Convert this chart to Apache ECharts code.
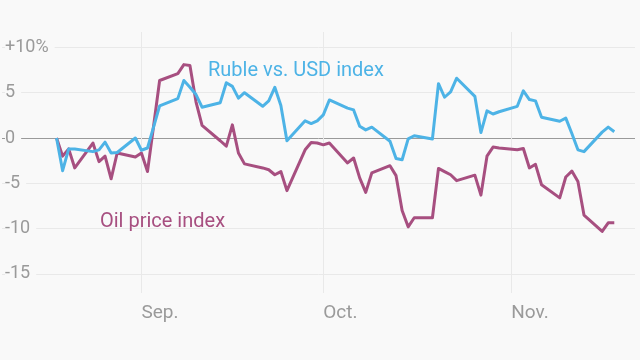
<!DOCTYPE html>
<html>
<head>
<meta charset="utf-8">
<style>
  html, body { margin: 0; padding: 0; background: #f9f9f9; }
  #chart { width: 640px; height: 360px; }
</style>
<script src="https://cdn.jsdelivr.net/npm/echarts@6/dist/echarts.min.js"></script>
</head>
<body>
<div id="chart"></div>
<script>
const dates = ['2015-08-18','2015-08-19','2015-08-20','2015-08-21','2015-08-24','2015-08-25','2015-08-26','2015-08-27','2015-08-28','2015-08-31',
'2015-09-01','2015-09-02','2015-09-03','2015-09-04','2015-09-07','2015-09-08','2015-09-09','2015-09-10','2015-09-11','2015-09-14','2015-09-15','2015-09-16','2015-09-17','2015-09-18','2015-09-21','2015-09-22','2015-09-23','2015-09-24','2015-09-25','2015-09-28','2015-09-29','2015-09-30',
'2015-10-01','2015-10-02','2015-10-05','2015-10-06','2015-10-07','2015-10-08','2015-10-09','2015-10-12','2015-10-13','2015-10-14','2015-10-15','2015-10-16','2015-10-19','2015-10-20','2015-10-21','2015-10-22','2015-10-23','2015-10-26','2015-10-27','2015-10-28','2015-10-29','2015-10-30',
'2015-11-02','2015-11-03','2015-11-04','2015-11-05','2015-11-06','2015-11-09','2015-11-10','2015-11-11','2015-11-12','2015-11-13','2015-11-16','2015-11-17','2015-11-18'];

const ruble = [0,-3.6,-1.2,-1.2,-1.5,-1.3,-0.45,-1.65,-1.6,0,
-1.35,-1.1,1.2,3.55,4.35,6.35,5.6,4.8,3.4,3.9,6.1,5.7,4.4,5.0,3.5,4.1,5.6,3.6,-0.3,1.9,1.6,1.9,
2.55,4.2,3.3,3.1,1.3,0.9,1.2,-0.35,-2.25,-2.4,-0.1,0.25,-0.1,6.0,4.5,5.1,6.6,4.6,0.6,3.0,2.65,2.9,
3.5,5.2,4.25,4.1,2.3,1.85,2.2,0.5,-1.3,-1.5,0.65,1.2,0.7];

const oil = [0,-2.0,-1.2,-3.3,-0.55,-2.6,-2.0,-4.5,-1.65,-2.1,
-1.65,-3.7,1.3,6.35,7.1,8.1,8.0,4.0,1.4,-0.3,-0.9,1.45,-1.65,-2.85,-3.3,-3.5,-4.05,-3.7,-5.8,-1.3,-0.5,-0.55,
-0.75,-0.55,-2.75,-2.2,-4.4,-6.0,-3.85,-3.05,-4.15,-8.0,-9.8,-8.8,-8.8,-3.35,-3.7,-4.05,-4.7,-4.1,-6.3,-2.0,-1.0,-1.1,
-1.3,-1.15,-3.3,-2.9,-5.15,-6.6,-4.3,-3.65,-4.8,-8.5,-10.3,-9.35,-9.35];

const monthTicks = ['2015-09-01','2015-10-01','2015-11-01'];
const monthLabels = ['Sep.','Oct.','Nov.'];
const yTicks = [-15,-10,-5,0,5,10];
const yTickLabels = ['-15','-10','-5','0','5','+10%'];

const seriesNames = ['Oil price index','Ruble vs. USD index'];

const BLUE = '#4db3e6';
const PURPLE = '#a74f80';
const BG = '#f9f9f9';
const GRID = '#e9e9e9';
const FONT = 'Roboto, "Noto Sans", sans-serif';

const ts = d => echarts.time.parse(d).getTime();
const monthStamps = monthTicks.map(ts);

const chart = echarts.init(document.getElementById('chart'), null, {renderer: 'canvas'});

chart.setOption({
  backgroundColor: BG,
  animation: false,
  grid: { left: 2, right: 5, top: 32, bottom: 67, containLabel: false },
  xAxis: {
    type: 'value',
    min: ts('2015-08-09'),
    max: ts('2015-11-21 10:00:00'),
    axisLine: { show: false },
    axisTick: { show: false, customValues: monthStamps },
    splitLine: { show: true, lineStyle: { color: GRID, width: 1 } },
    axisLabel: {
      customValues: monthStamps,
      align: 'left',
      margin: 11,
      color: '#9a9a9a',
      fontSize: 19,
      fontFamily: FONT,
      formatter: function (v) {
        let best = 0, bd = Infinity;
        monthStamps.forEach((s, i) => { const d = Math.abs(s - v); if (d < bd) { bd = d; best = i; } });
        return monthLabels[best];
      }
    }
  },
  yAxis: {
    type: 'value',
    min: -17.1,
    max: 11.7,
    axisLine: { show: false },
    axisTick: { show: false, customValues: yTicks },
    splitLine: {
      show: true,
      lineStyle: { color: yTicks.map(v => v === 0 ? '#9a9a9a' : GRID), width: 1 }
    },
    axisLabel: {
      customValues: yTicks,
      inside: true,
      margin: 3,
      color: '#9a9a9a',
      fontSize: 18,
      fontFamily: FONT,
      backgroundColor: BG,
      padding: [0, 6, 0, 0],
      formatter: function (v) {
        const i = yTicks.indexOf(Math.round(v));
        return i >= 0 ? yTickLabels[i] : String(v);
      }
    }
  },
  graphic: [
    { type: 'text', x: 208, y: 70.5, silent: true, z: 10,
      style: { text: seriesNames[1], fill: BLUE, font: '20px ' + FONT, verticalAlign: 'middle' } },
    { type: 'text', x: 100, y: 222, silent: true, z: 10,
      style: { text: seriesNames[0], fill: PURPLE, font: '20px ' + FONT, verticalAlign: 'middle' } }
  ],
  series: [
    {
      name: seriesNames[0],
      type: 'line',
      data: dates.map((d, i) => [ts(d), oil[i]]),
      showSymbol: false,
      lineStyle: { color: PURPLE, width: 3, join: 'round' },
      itemStyle: { color: PURPLE },
      z: 2
    },
    {
      name: seriesNames[1],
      type: 'line',
      data: dates.map((d, i) => [ts(d), ruble[i]]),
      showSymbol: false,
      lineStyle: { color: BLUE, width: 3, join: 'round' },
      itemStyle: { color: BLUE },
      z: 3
    }
  ]
});
</script>
</body>
</html>
